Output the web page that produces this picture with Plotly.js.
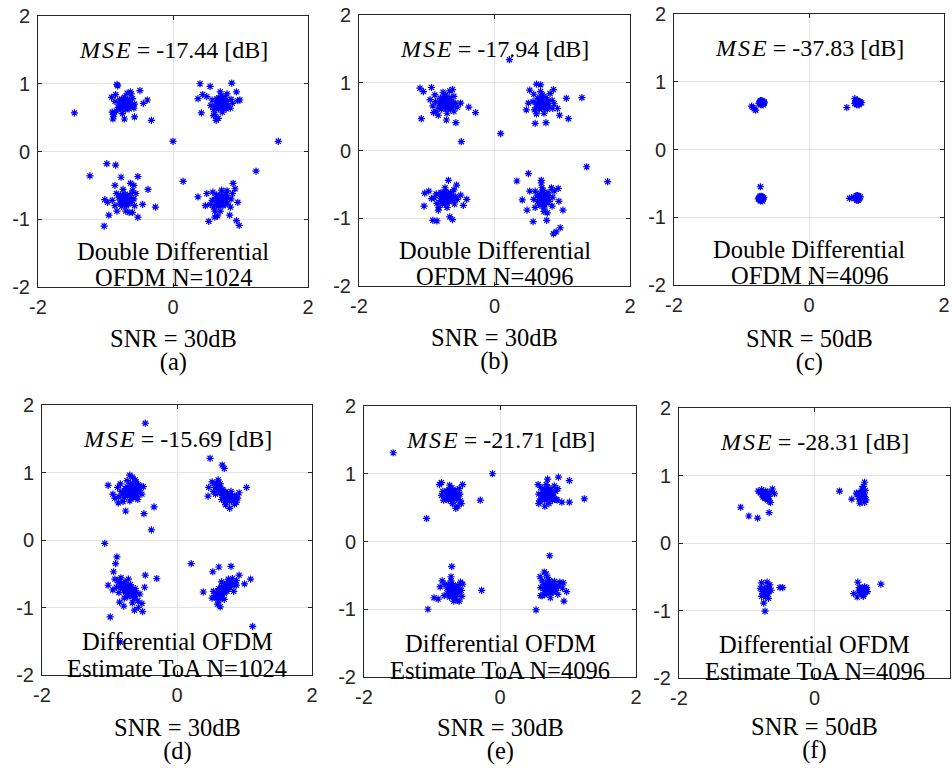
<!DOCTYPE html>
<html>
<head>
<meta charset="utf-8">
<script src="https://cdn.plot.ly/plotly-3.0.1.min.js"></script>
<style>html,body{margin:0;padding:0;background:#fff;}#chart{width:952px;height:770px;}</style>
</head>
<body>
<div id="chart"></div>
<script>
// ---------- DATA ----------
const mseValues = ['-17.44', '-17.94', '-37.83', '-15.69', '-21.71', '-28.31'];
const textLine1 = ['Double Differential', 'Double Differential', 'Double Differential', 'Differential OFDM', 'Differential OFDM', 'Differential OFDM'];
const textLine2 = ['OFDM N=1024', 'OFDM N=4096', 'OFDM N=4096', 'Estimate ToA N=1024', 'Estimate ToA N=4096', 'Estimate ToA N=4096'];
const snrLabels = ['SNR = 30dB', 'SNR = 30dB', 'SNR = 50dB', 'SNR = 30dB', 'SNR = 30dB', 'SNR = 50dB'];
const panelTags = ['(a)', '(b)', '(c)', '(d)', '(e)', '(f)'];
const xTickVals = [-2, 0, 2];
const xTickText = ['-2', '0', '2'];
const yTickVals = [-2, -1, 0, 1, 2];
const yTickText = ['-2', '-1', '0', '1', '2'];

// panel (a) received symbols [I, Q]
const ptsA = [
 [-0.72,0.70],[-0.69,0.73],[-0.75,0.67],[-0.66,0.68],[-0.78,0.72],[-0.71,0.76],[-0.73,0.64],[-0.64,0.72],[-0.80,0.69],[-0.70,0.62],[-0.76,0.77],[-0.67,0.77],[-0.74,0.71],[-0.68,0.66],[-0.81,0.65],[-0.63,0.67],[-0.72,0.80],[-0.77,0.62],[-0.70,0.69],[-0.65,0.63],[-0.79,0.76],[-0.73,0.74],
 [-0.70,0.71],[-0.74,0.69],[-0.71,0.73],[-0.73,0.67],[-0.68,0.70],[-0.76,0.70],[-0.69,0.68],[-0.75,0.73],[-0.72,0.66],[-0.67,0.73],[-0.77,0.67],[-0.71,0.75],
 [-0.86,0.74],[-0.60,0.78],[-0.84,0.60],[-0.58,0.64],[-0.68,0.86],[-0.75,0.56],[-0.88,0.55],[-0.62,0.85],[-0.85,0.84],[-0.57,0.70],
 [-0.83,0.99],[-0.82,0.97],[-1.46,0.57],[-0.32,0.46],[-0.38,0.76],[-0.89,0.48],[-0.72,0.48],[-0.57,0.51],[-0.44,0.71],[-0.63,0.88],[-0.49,0.90],[-0.91,0.80],[-0.90,0.58],[-0.88,0.52],
 [0.72,0.72],[0.75,0.75],[0.69,0.69],[0.78,0.70],[0.66,0.74],[0.73,0.78],[0.71,0.66],[0.80,0.74],[0.64,0.70],[0.74,0.64],[0.68,0.79],[0.77,0.79],[0.70,0.73],[0.76,0.68],[0.63,0.66],[0.81,0.67],[0.72,0.82],[0.67,0.63],[0.74,0.71],[0.79,0.63],[0.65,0.78],[0.71,0.76],
 [0.70,0.71],[0.74,0.73],[0.71,0.69],[0.73,0.75],[0.68,0.72],[0.76,0.72],[0.69,0.75],[0.75,0.69],[0.72,0.68],[0.67,0.68],[0.77,0.75],[0.73,0.70],
 [0.58,0.76],[0.86,0.77],[0.60,0.62],[0.85,0.64],[0.73,0.58],[0.70,0.88],[0.56,0.68],[0.88,0.71],[0.62,0.55],[0.80,0.85],
 [0.40,1.00],[0.87,1.01],[0.55,0.96],[0.44,0.84],[0.37,0.78],[0.42,0.57],[0.99,0.76],[0.94,0.88],[0.64,0.46],[0.67,0.49],[0.50,0.81],[0.96,0.75],[0.60,0.53],
 [0.00,0.15],[1.56,0.15],[1.23,-0.29],[0.15,-0.44],
 [-0.71,-0.72],[-0.68,-0.69],[-0.74,-0.75],[-0.65,-0.73],[-0.77,-0.70],[-0.70,-0.66],[-0.72,-0.79],[-0.63,-0.68],[-0.79,-0.76],[-0.69,-0.80],[-0.75,-0.65],[-0.66,-0.77],[-0.73,-0.71],[-0.67,-0.74],[-0.80,-0.68],[-0.62,-0.75],[-0.71,-0.63],[-0.76,-0.81],[-0.69,-0.71],[-0.64,-0.64],[-0.78,-0.64],[-0.72,-0.68],
 [-0.69,-0.73],[-0.73,-0.70],[-0.70,-0.75],[-0.72,-0.69],[-0.67,-0.71],[-0.75,-0.73],[-0.68,-0.77],[-0.74,-0.68],[-0.71,-0.77],[-0.66,-0.68],[-0.76,-0.77],[-0.70,-0.70],
 [-0.84,-0.62],[-0.58,-0.70],[-0.86,-0.80],[-0.57,-0.80],[-0.70,-0.88],[-0.74,-0.56],[-0.60,-0.58],[-0.83,-0.88],[-0.55,-0.62],[-0.65,-0.90],[-0.90,-0.72],
 [-1.23,-0.36],[-0.98,-0.18],[-0.85,-0.20],[-1.02,-1.10],[-0.95,-0.94],[-0.52,-0.37],[-0.37,-0.56],[-0.26,-0.82],[-0.52,-0.97],[-0.77,-0.38],[-0.86,-0.50],[-1.01,-0.71],[-0.63,-0.47],[-0.58,-0.50],[-0.97,-0.75],[-0.45,-0.78],[-0.60,-0.90],
 [0.72,-0.72],[0.75,-0.69],[0.69,-0.75],[0.78,-0.74],[0.66,-0.70],[0.73,-0.66],[0.71,-0.79],[0.80,-0.68],[0.64,-0.76],[0.74,-0.80],[0.68,-0.65],[0.77,-0.78],[0.70,-0.71],[0.76,-0.73],[0.63,-0.68],[0.81,-0.76],[0.72,-0.63],[0.67,-0.81],[0.74,-0.70],[0.79,-0.63],[0.65,-0.64],[0.71,-0.76],
 [0.70,-0.73],[0.74,-0.71],[0.71,-0.75],[0.73,-0.69],[0.68,-0.72],[0.76,-0.75],[0.69,-0.68],[0.75,-0.77],[0.72,-0.70],[0.67,-0.77],[0.77,-0.70],[0.70,-0.67],
 [0.58,-0.72],[0.86,-0.70],[0.60,-0.82],[0.85,-0.82],[0.72,-0.57],[0.70,-0.88],[0.59,-0.60],[0.88,-0.62],[0.62,-0.88],[0.80,-0.58],
 [0.37,-0.67],[0.53,-1.03],[0.89,-0.47],[0.96,-0.75],[0.84,-0.94],[0.94,-1.02],[0.98,-1.09],[0.62,-0.97],[0.48,-0.80],[0.55,-0.78],[0.92,-0.55],[0.66,-0.95],[0.50,-0.62]
];

// panel (b)
const ptsB = [
 [-0.72,0.70],[-0.69,0.73],[-0.75,0.67],[-0.66,0.69],[-0.78,0.73],[-0.71,0.77],[-0.73,0.63],[-0.63,0.73],[-0.81,0.69],[-0.70,0.62],[-0.76,0.78],[-0.67,0.78],[-0.74,0.71],[-0.68,0.66],[-0.82,0.64],[-0.62,0.66],[-0.72,0.82],[-0.78,0.61],[-0.65,0.61],[-0.80,0.77],[-0.70,0.68],[-0.75,0.74],
 [-0.70,0.72],[-0.74,0.68],[-0.71,0.74],[-0.73,0.66],[-0.68,0.71],[-0.77,0.71],[-0.69,0.67],[-0.76,0.75],[-0.72,0.68],[-0.67,0.74],[-0.78,0.66],[-0.73,0.76],
 [-0.87,0.72],[-0.58,0.70],[-0.86,0.58],[-0.60,0.80],[-0.70,0.55],[-0.76,0.86],[-0.60,0.58],[-0.88,0.82],[-0.66,0.88],[-0.55,0.64],[-0.83,0.52],
 [-1.10,0.92],[-1.05,0.87],[-1.08,0.47],[-0.93,0.93],[-0.91,0.66],[-0.28,0.56],[-0.38,0.64],[-0.49,0.13],[-0.57,0.41],[-0.71,0.45],[-0.95,0.75],[-0.50,0.70],[-0.62,0.90],[-0.90,0.56],
 [0.22,1.34],[0.09,0.25],
 [0.71,0.70],[0.74,0.73],[0.68,0.67],[0.77,0.69],[0.65,0.72],[0.72,0.77],[0.70,0.63],[0.79,0.73],[0.63,0.68],[0.73,0.63],[0.67,0.78],[0.76,0.78],[0.69,0.71],[0.75,0.66],[0.62,0.64],[0.80,0.66],[0.71,0.82],[0.66,0.61],[0.78,0.61],[0.64,0.77],[0.72,0.68],[0.69,0.74],
 [0.69,0.71],[0.73,0.72],[0.70,0.68],[0.72,0.75],[0.67,0.70],[0.75,0.71],[0.68,0.74],[0.74,0.68],[0.71,0.66],[0.66,0.67],[0.76,0.75],[0.70,0.73],
 [0.57,0.72],[0.85,0.74],[0.59,0.60],[0.86,0.62],[0.73,0.55],[0.68,0.87],[0.58,0.83],[0.82,0.84],[0.62,0.54],[0.88,0.69],
 [0.62,0.98],[0.87,0.90],[1.06,0.77],[1.29,0.78],[1.09,0.47],[0.96,0.52],[0.47,0.60],[0.60,0.40],[0.76,0.41],[0.52,0.89],[0.68,0.97],[0.93,0.62],[0.50,0.70],
 [-0.72,-0.70],[-0.69,-0.67],[-0.75,-0.73],[-0.66,-0.71],[-0.78,-0.68],[-0.71,-0.64],[-0.73,-0.77],[-0.63,-0.66],[-0.80,-0.74],[-0.70,-0.78],[-0.76,-0.63],[-0.67,-0.75],[-0.74,-0.69],[-0.68,-0.72],[-0.81,-0.66],[-0.63,-0.74],[-0.72,-0.61],[-0.77,-0.79],[-0.65,-0.62],[-0.79,-0.62],[-0.70,-0.71],[-0.74,-0.66],
 [-0.70,-0.71],[-0.74,-0.68],[-0.71,-0.73],[-0.73,-0.67],[-0.68,-0.69],[-0.76,-0.71],[-0.69,-0.75],[-0.75,-0.66],[-0.72,-0.75],[-0.67,-0.66],[-0.77,-0.75],[-0.71,-0.68],
 [-0.86,-0.64],[-0.58,-0.68],[-0.85,-0.78],[-0.59,-0.79],[-0.70,-0.84],[-0.73,-0.55],[-0.60,-0.58],[-0.82,-0.84],[-0.55,-0.72],[-0.89,-0.70],
 [-1.03,-0.63],[-1.04,-0.82],[-0.91,-1.03],[-0.85,-1.04],[-0.66,-0.98],[-0.62,-1.02],[-0.41,-0.72],[-0.46,-0.81],[-0.68,-0.44],[-0.56,-0.51],[-0.93,-0.71],[-0.83,-0.88],[-0.50,-0.66],[-0.97,-0.60],
 [0.72,-0.71],[0.75,-0.68],[0.69,-0.74],[0.78,-0.72],[0.66,-0.69],[0.73,-0.64],[0.71,-0.78],[0.80,-0.67],[0.64,-0.75],[0.74,-0.80],[0.68,-0.63],[0.77,-0.77],[0.70,-0.70],[0.76,-0.73],[0.63,-0.66],[0.81,-0.75],[0.72,-0.59],[0.67,-0.81],[0.79,-0.62],[0.65,-0.79],[0.73,-0.85],[0.70,-0.55],
 [0.70,-0.72],[0.74,-0.70],[0.71,-0.74],[0.73,-0.68],[0.68,-0.71],[0.76,-0.74],[0.69,-0.67],[0.75,-0.76],[0.72,-0.69],[0.67,-0.76],[0.77,-0.69],[0.71,-0.66],
 [0.58,-0.72],[0.86,-0.69],[0.60,-0.84],[0.85,-0.82],[0.73,-0.90],[0.69,-0.48],[0.60,-0.60],[0.88,-0.60],[0.78,-0.92],[0.84,-0.55],
 [1.36,-0.24],[1.67,-0.46],[0.50,-0.34],[0.33,-0.45],[0.41,-0.73],[0.57,-1.05],[0.77,-1.03],[0.87,-1.23],[0.91,-1.20],[0.97,-1.14],[1.01,-0.88],[0.94,-0.56],[0.48,-0.88],[0.69,-0.44],[0.52,-0.60],[0.95,-0.75]
];

// panel (c)
const ptsC = [
 [-0.70,0.69],[-0.68,0.71],[-0.72,0.67],[-0.67,0.68],[-0.73,0.70],[-0.70,0.72],[-0.71,0.66],[-0.66,0.70],[-0.74,0.68],[-0.69,0.67],[-0.72,0.72],[-0.68,0.66],
 [-0.71,0.70],[-0.69,0.69],[-0.70,0.71],[-0.72,0.69],
 [-0.83,0.62],[-0.79,0.58],[-0.85,0.64],[-0.81,0.60],
 [0.72,0.69],[0.74,0.71],[0.70,0.67],[0.75,0.68],[0.69,0.70],[0.72,0.72],[0.71,0.66],[0.76,0.70],[0.68,0.68],[0.73,0.67],[0.70,0.72],[0.74,0.66],[0.78,0.69],
 [0.73,0.70],[0.71,0.69],[0.72,0.71],[0.74,0.69],
 [0.56,0.62],[0.68,0.75],
 [-0.71,-0.72],[-0.69,-0.70],[-0.73,-0.74],[-0.68,-0.73],[-0.74,-0.71],[-0.71,-0.69],[-0.72,-0.76],[-0.67,-0.71],[-0.75,-0.73],[-0.70,-0.75],[-0.73,-0.69],[-0.69,-0.76],
 [-0.70,-0.72],[-0.72,-0.72],[-0.71,-0.70],[-0.71,-0.74],
 [-0.72,-0.55],
 [0.72,-0.71],[0.74,-0.69],[0.70,-0.73],[0.75,-0.72],[0.69,-0.70],[0.72,-0.68],[0.73,-0.75],[0.76,-0.70],[0.68,-0.72],[0.71,-0.75],[0.74,-0.73],[0.70,-0.68],
 [0.71,-0.71],[0.73,-0.71],[0.72,-0.70],[0.72,-0.73],
 [0.60,-0.72],[0.63,-0.71]
];

// panel (d)
const ptsD = [
 [-0.68,0.73],[-0.64,0.76],[-0.72,0.70],[-0.60,0.72],[-0.76,0.74],[-0.66,0.80],[-0.70,0.65],[-0.58,0.78],[-0.80,0.68],[-0.62,0.67],[-0.74,0.79],[-0.55,0.73],[-0.83,0.72],[-0.67,0.69],[-0.71,0.77],[-0.63,0.71],[-0.78,0.63],[-0.59,0.65],[-0.69,0.84],[-0.75,0.68],[-0.65,0.62],[-0.57,0.82],
 [-0.66,0.74],[-0.70,0.72],[-0.64,0.72],[-0.72,0.75],[-0.62,0.75],[-0.74,0.71],[-0.67,0.77],[-0.69,0.69],[-0.61,0.69],[-0.76,0.76],[-0.65,0.68],[-0.73,0.67],[-0.60,0.76],[-0.78,0.70],
 [-0.86,0.64],[-0.52,0.68],[-0.88,0.78],[-0.53,0.79],[-0.70,0.58],[-0.62,0.89],[-0.80,0.57],[-0.74,0.88],[-0.84,0.83],[-0.58,0.60],
 [-0.47,1.73],[-1.02,0.81],[-0.34,0.49],[-0.49,0.39],[-0.38,0.15],[-1.07,-0.05],[-0.61,0.86],[-0.70,0.96],[-0.92,0.62],[-0.76,0.43],[-0.50,0.79],[-0.66,0.93],[-0.95,0.68],[-0.87,0.55],
 [0.73,0.66],[0.69,0.69],[0.77,0.63],[0.65,0.72],[0.81,0.61],[0.72,0.71],[0.75,0.60],[0.61,0.75],[0.84,0.60],[0.67,0.66],[0.79,0.67],[0.70,0.62],[0.58,0.78],[0.86,0.64],[0.74,0.69],[0.63,0.70],[0.78,0.57],[0.68,0.75],[0.82,0.66],[0.76,0.65],[0.56,0.81],[0.62,0.79],
 [0.71,0.67],[0.75,0.65],[0.69,0.71],[0.77,0.66],[0.67,0.70],[0.79,0.63],[0.72,0.64],[0.74,0.68],[0.65,0.74],[0.80,0.64],[0.70,0.66],[0.76,0.62],[0.63,0.73],[0.83,0.63],
 [0.54,0.72],[0.88,0.56],[0.66,0.60],[0.80,0.72],[0.59,0.84],[0.90,0.62],[0.71,0.56],[0.64,0.83],[0.85,0.53],[0.57,0.68],
 [0.49,1.21],[0.67,1.11],[0.70,1.06],[1.03,0.78],[0.47,0.78],[0.46,0.65],[0.78,0.47],[0.61,0.89],[0.88,0.65],[0.52,0.86],[0.92,0.70],[0.72,0.52],
 [-0.74,-0.73],[-0.78,-0.69],[-0.70,-0.76],[-0.82,-0.66],[-0.66,-0.80],[-0.75,-0.67],[-0.72,-0.80],[-0.86,-0.63],[-0.62,-0.83],[-0.79,-0.75],[-0.68,-0.70],[-0.77,-0.62],[-0.64,-0.87],[-0.80,-0.71],[-0.71,-0.72],[-0.84,-0.69],[-0.67,-0.75],[-0.73,-0.84],[-0.88,-0.60],[-0.60,-0.78],[-0.76,-0.78],[-0.69,-0.66],
 [-0.76,-0.71],[-0.72,-0.74],[-0.78,-0.72],[-0.70,-0.78],[-0.80,-0.67],[-0.68,-0.77],[-0.73,-0.70],[-0.75,-0.76],[-0.82,-0.70],[-0.66,-0.83],[-0.77,-0.66],[-0.71,-0.80],[-0.84,-0.65],[-0.64,-0.80],
 [-0.90,-0.70],[-0.58,-0.90],[-0.83,-0.56],[-0.62,-0.72],[-0.78,-0.86],[-0.66,-0.93],[-0.92,-0.58],[-0.55,-0.80],[-0.86,-0.78],[-0.72,-0.58],
 [-0.89,-0.25],[-0.91,-0.35],[-0.94,-0.47],[-1.02,-0.67],[-0.99,-1.14],[-0.84,-1.51],[-0.30,-0.57],[-0.47,-0.52],[-0.51,-1.06],[-0.63,-1.04],[-0.79,-0.98],[-0.95,-0.74],[-0.52,-0.94],[-0.57,-1.00],[-0.85,-0.92],[-0.48,-0.70],
 [0.68,-0.74],[0.72,-0.71],[0.64,-0.77],[0.76,-0.69],[0.60,-0.80],[0.70,-0.79],[0.66,-0.69],[0.80,-0.66],[0.56,-0.82],[0.74,-0.76],[0.62,-0.72],[0.78,-0.63],[0.58,-0.86],[0.71,-0.67],[0.65,-0.82],[0.83,-0.62],[0.69,-0.71],[0.75,-0.73],[0.61,-0.76],[0.79,-0.70],[0.67,-0.86],[0.73,-0.64],
 [0.66,-0.75],[0.70,-0.72],[0.62,-0.78],[0.74,-0.70],[0.67,-0.78],[0.72,-0.75],[0.64,-0.74],[0.77,-0.67],[0.60,-0.83],[0.69,-0.69],[0.73,-0.68],[0.63,-0.81],[0.79,-0.65],[0.66,-0.71],
 [0.54,-0.76],[0.86,-0.66],[0.62,-0.90],[0.82,-0.57],[0.70,-0.88],[0.76,-0.58],[0.52,-0.86],[0.88,-0.60],[0.66,-0.62],[0.84,-0.76],
 [0.21,-0.35],[0.53,-0.47],[0.62,-0.40],[0.80,-0.39],[1.00,-0.65],[1.09,-0.58],[0.39,-0.77],[1.12,-1.28],[0.64,-0.99],[0.88,-0.67],[0.92,-0.52],[0.60,-0.95]
];

// panel (e)
const ptsE = [
 [-0.71,0.69],[-0.68,0.72],[-0.74,0.66],[-0.65,0.67],[-0.77,0.71],[-0.70,0.75],[-0.72,0.63],[-0.63,0.71],[-0.79,0.68],[-0.69,0.61],[-0.75,0.76],[-0.66,0.76],[-0.73,0.70],[-0.67,0.65],[-0.80,0.64],[-0.62,0.66],[-0.71,0.79],[-0.76,0.61],[-0.64,0.62],[-0.78,0.75],
 [-0.69,0.70],[-0.73,0.68],[-0.70,0.72],[-0.72,0.65],[-0.67,0.69],[-0.75,0.70],[-0.68,0.66],[-0.74,0.73],[-0.71,0.67],[-0.66,0.72],[-0.76,0.66],[-0.70,0.74],
 [-0.84,0.74],[-0.59,0.70],[-0.83,0.61],[-0.60,0.78],[-0.70,0.56],[-0.74,0.83],[-0.58,0.60],[-0.86,0.68],
 [-1.57,1.31],[-0.11,1.00],[-1.08,0.34],[-0.29,0.61],[-0.65,0.49],[-0.89,0.84],[-0.86,0.87],[-0.57,0.56],[-0.55,0.84],[-0.62,0.52],
 [0.70,0.70],[0.73,0.73],[0.67,0.67],[0.76,0.68],[0.64,0.72],[0.71,0.76],[0.69,0.64],[0.78,0.72],[0.62,0.68],[0.72,0.62],[0.66,0.77],[0.75,0.77],[0.68,0.71],[0.74,0.66],[0.61,0.64],[0.79,0.65],[0.70,0.80],[0.65,0.61],[0.77,0.61],[0.63,0.76],
 [0.68,0.69],[0.72,0.71],[0.69,0.67],[0.71,0.74],[0.66,0.70],[0.74,0.70],[0.67,0.73],[0.73,0.67],[0.70,0.66],[0.65,0.66],[0.75,0.74],[0.71,0.72],
 [0.57,0.70],[0.82,0.74],[0.58,0.60],[0.83,0.62],[0.72,0.56],[0.68,0.84],[0.60,0.80],[0.80,0.82],
 [0.86,0.95],[1.02,0.90],[1.24,0.63],[1.02,0.58],[0.91,0.58],[0.84,0.61],[0.70,0.92],[0.57,0.56],[0.66,0.52],[0.56,0.84],[0.85,0.78],
 [-0.69,-0.73],[-0.66,-0.70],[-0.72,-0.76],[-0.63,-0.74],[-0.75,-0.71],[-0.68,-0.67],[-0.70,-0.80],[-0.61,-0.69],[-0.77,-0.77],[-0.67,-0.81],[-0.73,-0.66],[-0.64,-0.78],[-0.71,-0.72],[-0.65,-0.75],[-0.78,-0.69],[-0.60,-0.76],[-0.69,-0.64],[-0.74,-0.82],[-0.62,-0.65],[-0.76,-0.64],
 [-0.67,-0.74],[-0.71,-0.71],[-0.68,-0.76],[-0.70,-0.70],[-0.65,-0.72],[-0.73,-0.74],[-0.66,-0.78],[-0.72,-0.69],[-0.69,-0.78],[-0.64,-0.69],[-0.74,-0.78],[-0.68,-0.71],
 [-0.81,-0.63],[-0.57,-0.72],[-0.82,-0.80],[-0.56,-0.81],[-0.68,-0.88],[-0.72,-0.58],[-0.58,-0.60],[-0.62,-0.87],
 [-0.71,-0.37],[-1.06,-1.00],[-0.97,-0.83],[-0.91,-0.85],[-0.27,-0.72],[-0.60,-0.88],[-0.88,-0.67],[-0.72,-0.52],[-0.55,-0.63],[-0.85,-0.58],
 [0.73,-0.68],[0.76,-0.65],[0.70,-0.71],[0.79,-0.69],[0.67,-0.66],[0.74,-0.62],[0.72,-0.75],[0.81,-0.64],[0.65,-0.72],[0.75,-0.76],[0.69,-0.61],[0.78,-0.74],[0.71,-0.67],[0.77,-0.70],[0.64,-0.64],[0.82,-0.72],[0.73,-0.58],[0.68,-0.77],[0.80,-0.59],[0.66,-0.78],
 [0.71,-0.69],[0.75,-0.67],[0.72,-0.71],[0.74,-0.65],[0.69,-0.68],[0.77,-0.71],[0.70,-0.64],[0.76,-0.73],[0.73,-0.66],[0.68,-0.73],[0.78,-0.66],[0.72,-0.63],
 [0.60,-0.68],[0.86,-0.66],[0.62,-0.58],[0.85,-0.78],[0.74,-0.83],[0.70,-0.53],[0.62,-0.80],[0.88,-0.60],
 [0.73,-0.21],[0.53,-1.01],[0.94,-0.88],[0.98,-0.74],[0.93,-0.61],[0.92,-0.69],[0.65,-0.45],[0.59,-0.52],[0.68,-0.48],[0.60,-0.80]
];

// panel (f)
const ptsF = [
 [-0.72,0.70],[-0.70,0.72],[-0.74,0.68],[-0.69,0.69],[-0.75,0.71],[-0.72,0.74],[-0.73,0.66],[-0.68,0.72],[-0.76,0.68],[-0.71,0.67],[-0.74,0.74],[-0.70,0.66],[-0.67,0.69],[-0.77,0.72],[-0.72,0.77],[-0.69,0.64],
 [-0.71,0.71],[-0.73,0.70],[-0.72,0.72],[-0.70,0.69],
 [-1.09,0.53],[-0.97,0.40],[-0.84,0.37],[-0.67,0.45],[-0.62,0.80],[-0.59,0.73],[-0.83,0.77],[-0.67,0.62],[-0.80,0.74],[-0.65,0.60],[-0.64,0.76],[-0.78,0.79],
 [0.69,0.71],[0.71,0.73],[0.67,0.69],[0.72,0.70],[0.66,0.72],[0.69,0.75],[0.70,0.67],[0.73,0.73],[0.65,0.69],[0.68,0.66],[0.71,0.76],[0.67,0.74],[0.74,0.69],[0.72,0.66],[0.66,0.65],[0.63,0.72],
 [0.70,0.72],[0.68,0.70],[0.70,0.69],[0.69,0.73],
 [0.37,0.77],[0.55,0.65],[0.74,0.90],[0.72,0.84],[0.74,0.60],[0.67,0.59],[0.76,0.64],[0.62,0.74],[0.75,0.78],[0.70,0.80],
 [-0.72,-0.72],[-0.70,-0.70],[-0.74,-0.74],[-0.69,-0.73],[-0.75,-0.71],[-0.72,-0.68],[-0.73,-0.76],[-0.68,-0.70],[-0.76,-0.75],[-0.71,-0.77],[-0.74,-0.68],[-0.70,-0.75],[-0.67,-0.72],[-0.77,-0.72],[-0.72,-0.80],[-0.69,-0.66],
 [-0.71,-0.73],[-0.73,-0.71],[-0.72,-0.75],[-0.70,-0.72],
 [-0.73,-1.01],[-0.75,-0.89],[-0.78,-0.59],[-0.70,-0.58],[-0.51,-0.66],[-0.47,-0.66],[-0.78,-0.79],[-0.64,-0.70],[-0.66,-0.62],[-0.80,-0.67],[-0.68,-0.82],
 [0.71,-0.70],[0.73,-0.68],[0.69,-0.72],[0.74,-0.71],[0.68,-0.69],[0.71,-0.66],[0.72,-0.74],[0.75,-0.68],[0.67,-0.73],[0.70,-0.75],[0.73,-0.72],[0.69,-0.67],[0.76,-0.72],[0.66,-0.70],[0.72,-0.77],[0.74,-0.65],
 [0.72,-0.71],[0.70,-0.71],[0.71,-0.73],[0.72,-0.68],
 [0.98,-0.61],[0.64,-0.58],[0.58,-0.75],[0.63,-0.80],[0.72,-0.79],[0.78,-0.72],[0.77,-0.66],[0.66,-0.66]
];

const allPoints = [ptsA, ptsB, ptsC, ptsD, ptsE, ptsF];

// ---------- LAYOUT (positions / styles) ----------
const W = 952, H = 770;
// plot boxes in pixels: [left, right, top, bottom]
const boxes = [
  [38, 308, 16, 287], [359, 630, 15, 286], [674, 944, 14, 285],
  [42, 312, 405, 675], [364, 636, 406, 677], [679, 950, 408, 678]
];
// vertical centre (px) of the two-line "SNR / (tag)" caption block under each panel
const captionPx = [350.5, 349.5, 350.5, 739, 739, 738];
const line1Y = [-1.47, -1.47, -1.47, -1.51, -1.51, -1.51];
const line2Y = [-1.86, -1.86, -1.86, -1.90, -1.90, -1.90];

const serif = 'Liberation Serif, Times New Roman, serif';
const sans = 'Liberation Sans, Arial, Helvetica, sans-serif';

const traces = [];
const layout = {
  width: W, height: H,
  margin: {l: 0, r: 0, t: 0, b: 0},
  paper_bgcolor: '#ffffff', plot_bgcolor: '#ffffff',
  font: {family: sans, size: 20, color: '#262626'},
  showlegend: false,
  annotations: []
};

function axisCfg(domain, anchor, tv, tt, standoff) {
  return {
    domain: domain, anchor: anchor, range: [-2, 2],
    tickmode: 'array', tickvals: tv, ticktext: tt,
    showgrid: true, gridcolor: '#e3e3e3', gridwidth: 1,
    zeroline: false,
    showline: true, linecolor: '#262626', linewidth: 1, mirror: 'ticks',
    ticks: 'inside', ticklen: 4, tickwidth: 1, tickcolor: '#262626',
    tickfont: {family: sans, size: 20, color: '#262626'},
    ticklabelstandoff: standoff,
    automargin: false,
    fixedrange: true
  };
}

function note(xref, yref, x, y, text, size) {
  return {xref: xref, yref: yref, x: x, y: y, text: text, showarrow: false,
          xanchor: 'center', yanchor: 'middle',
          font: {family: serif, size: size, color: '#000'}};
}

const big = t => '<span style="font-size:24.5px">' + t + '</span>';

allPoints.forEach((pts, i) => {
  const s = i === 0 ? '' : String(i + 1);
  const b = boxes[i];
  const xd = [b[0] / W, b[1] / W];
  const yd = [1 - b[3] / H, 1 - b[2] / H];
  layout['xaxis' + s] = axisCfg(xd, 'y' + s, xTickVals, xTickText, 2);
  layout['yaxis' + s] = axisCfg(yd, 'x' + s, yTickVals, yTickText, 3);
  traces.push({
    type: 'scatter', mode: 'markers',
    x: pts.map(p => p[0]), y: pts.map(p => p[1]),
    xaxis: 'x' + s, yaxis: 'y' + s,
    marker: {symbol: 'asterisk-open', size: 6, color: '#0000ff', line: {color: '#0000ff', width: 1.2}},
    hoverinfo: 'x+y'
  });
  const xr = 'x' + s, yr = 'y' + s;
  layout.annotations.push(
    note(xr, yr, 0, 1.5, '<i>M\u200AS\u200AE</i> = ' + mseValues[i] + ' [dB]', 24),
    note(xr, yr, 0, line1Y[i], textLine1[i], 24.5),
    note(xr, yr, 0, line2Y[i], textLine2[i], 24.5),
    // base size 18 gives ~23px line pitch (as in the reference); glyphs drawn at 24.5px
    note(xr + ' domain', 'paper', 0.5, 1 - captionPx[i] / H, big(snrLabels[i]) + '<br>' + big(panelTags[i]), 18)
  );
});

Plotly.newPlot('chart', traces, layout, {displayModeBar: false, staticPlot: true});
</script>
</body>
</html>
